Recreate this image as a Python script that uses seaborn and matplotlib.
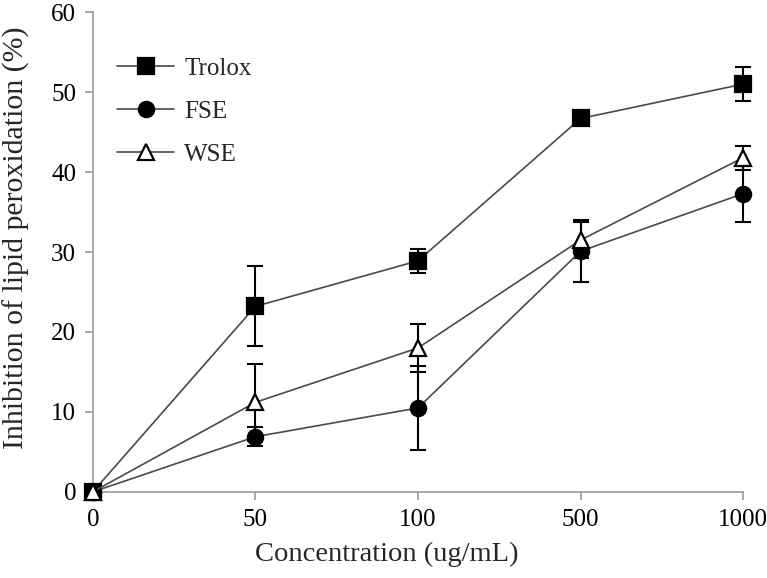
import numpy as np
import pandas as pd
import matplotlib.pyplot as plt
import seaborn as sns

concentrations = ["0", "50", "100", "500", "1000"]
trolox = [0, 23.2, 28.9, 46.7, 51.0]
trolox_err = [0, 5.0, 1.5, 0.5, 2.1]
fse = [0, 6.9, 10.5, 30.1, 37.3]
fse_err = [0, 1.2, 5.3, 3.9, 3.5]
wse = [0, 11.2, 18.0, 31.5, 41.8]
wse_err = [0, 4.8, 3.0, 2.3, 1.5]

sns.set_style("white")
plt.rcParams["font.family"] = ["Liberation Serif", "DejaVu Serif"]

fig = plt.figure(figsize=(7.67, 5.78), dpi=100)
ax = fig.add_axes([0.121, 0.149, 0.848, 0.830])

pos = np.arange(len(concentrations))
series = [
    ("Trolox", trolox, trolox_err, "s", "black"),
    ("FSE", fse, fse_err, "o", "black"),
    ("WSE", wse, wse_err, "^", "white"),
]

for name, vals, errs, mk, face in series:
    eb = ax.errorbar(pos, vals, yerr=errs, fmt="none", ecolor="black",
                     elinewidth=1.5, capsize=6, capthick=1.5, zorder=2)
    for art in eb.lines[1] + eb.lines[2]:
        art.set_clip_on(False)
    sns.lineplot(x=pos, y=vals, ax=ax, color="#4a4a4a", linewidth=1.2,
                 marker=mk, markersize=11 if mk != "^" else 11.5,
                 mfc=face, mec="black", mew=1.6, label=name, zorder=3,
                 clip_on=False)

ax.set_xlim(0, 4)
ax.set_ylim(0, 60)
ax.set_xticks(pos)
ax.set_xticklabels(concentrations)
ax.set_yticks(range(0, 61, 10))
ax.tick_params(axis="both", labelsize=18, colors="#999999", labelcolor="black",
               length=6, width=1.2, direction="out", left=True, bottom=True, pad=6)
for side in ["top", "right"]:
    ax.spines[side].set_visible(False)
for side in ["left", "bottom"]:
    ax.spines[side].set_color("#999999")
    ax.spines[side].set_linewidth(1.2)

ax.set_xlabel("Concentration (ug/mL)", fontsize=20.5)
ax.set_ylabel("Inhibition of lipid peroxidation (%)", fontsize=21.5)
ax.xaxis.set_label_coords(0.452, -0.105)
ax.yaxis.set_label_coords(-0.096, 0.53)

ax.legend(loc="upper left", bbox_to_anchor=(0.037, 0.905), frameon=False,
          fontsize=18, handlelength=2.3, labelspacing=0.82, borderpad=0,
          borderaxespad=0, handletextpad=0.4)

fig.savefig("out.png", dpi=100)
